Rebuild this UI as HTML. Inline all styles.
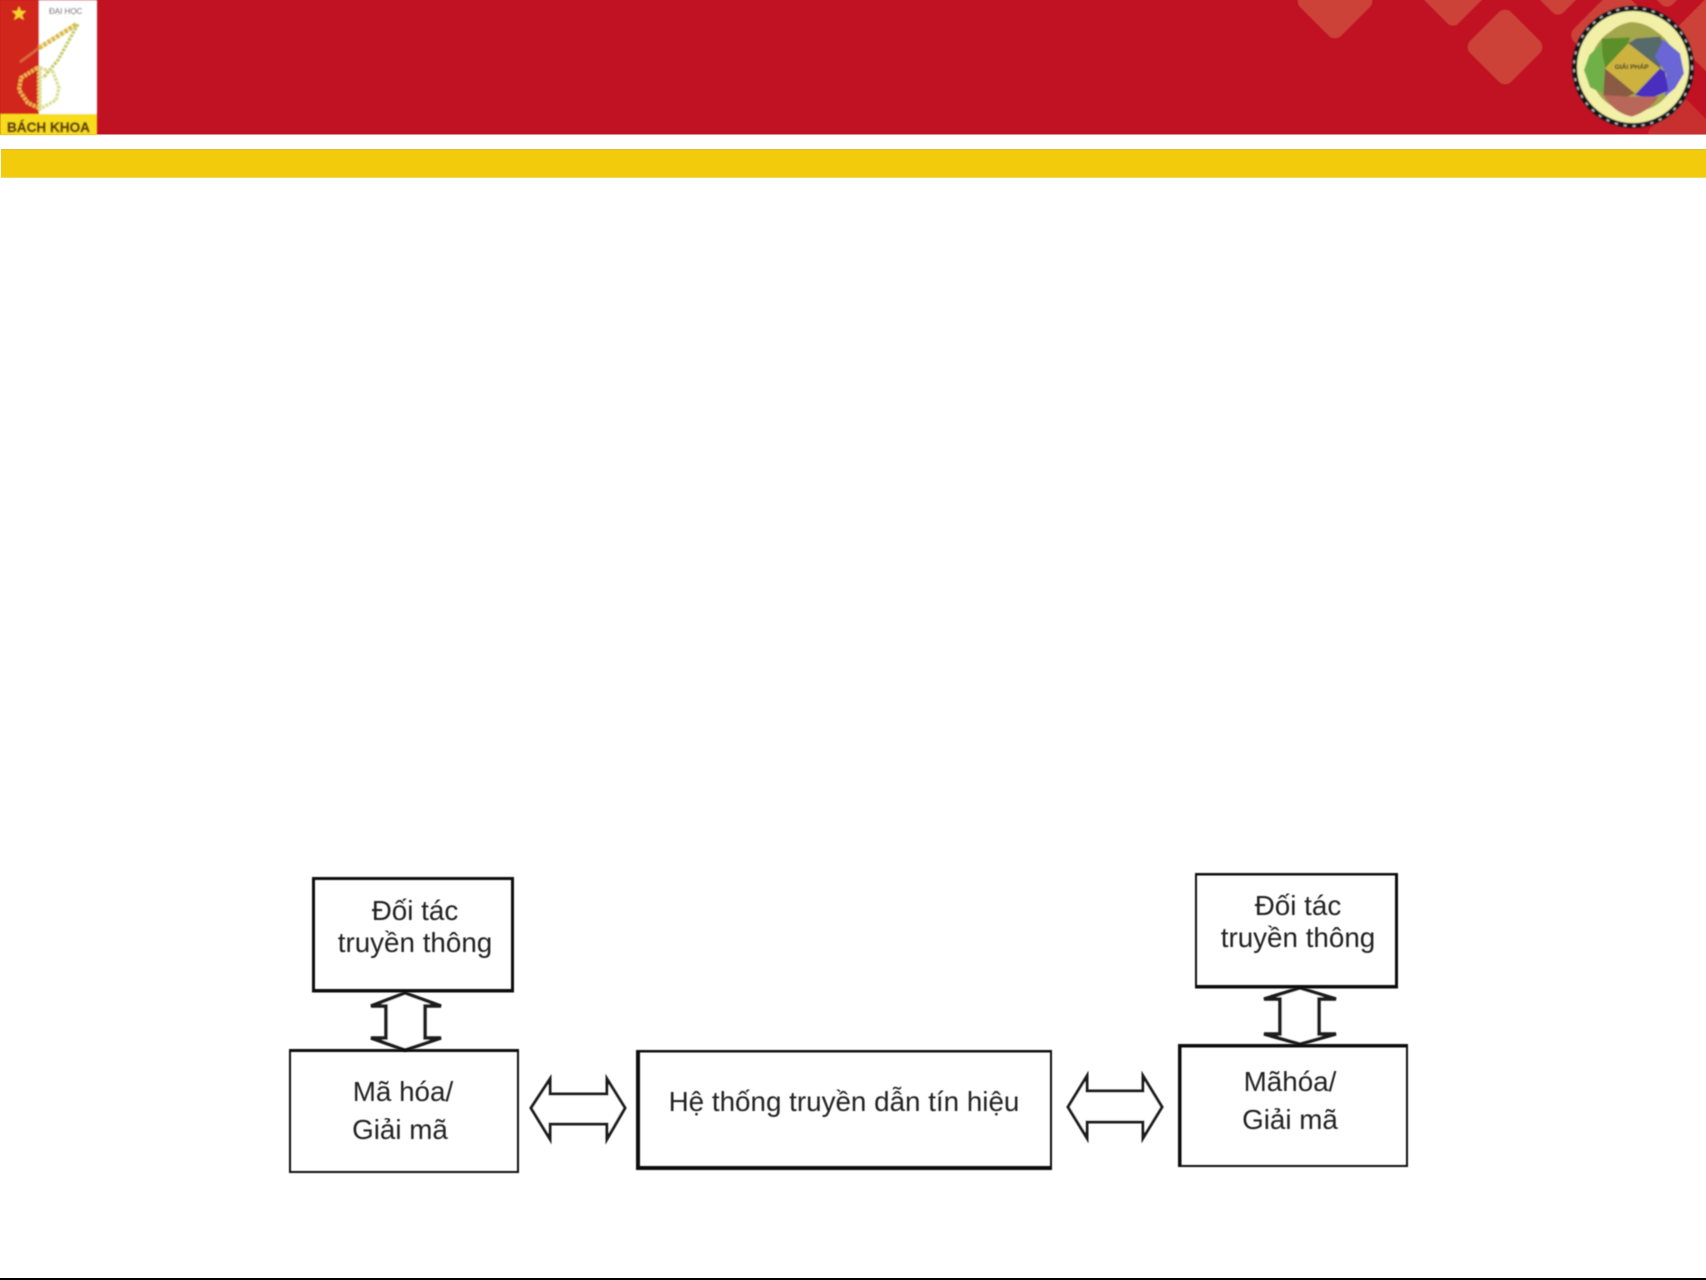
<!DOCTYPE html>
<html lang="vi">
<head>
<meta charset="utf-8">
<title>Hệ thống truyền dẫn tín hiệu</title>
<style>
html,body{margin:0;padding:0;background:#fff;width:1706px;height:1280px;overflow:hidden}
svg{display:block;position:absolute;left:0;top:0}
text{font-family:"Liberation Sans",sans-serif;fill:#222}
</style>
</head>
<body>
<svg width="1706" height="1280" viewBox="0 0 1706 1280" xmlns="http://www.w3.org/2000/svg">
<defs>
<filter id="b1" x="-10%" y="-10%" width="120%" height="120%"><feGaussianBlur stdDeviation="0.9"/></filter>
<filter id="b2" x="-10%" y="-10%" width="120%" height="120%"><feGaussianBlur stdDeviation="0.45"/></filter>
<filter id="b3" x="-10%" y="-10%" width="120%" height="120%"><feGaussianBlur stdDeviation="0.7"/></filter>
<clipPath id="hdr"><rect x="0" y="0" width="1706" height="134"/></clipPath>
</defs>

<!-- header -->
<rect x="0" y="0" width="1706" height="134" fill="#C11223"/>
<rect x="0" y="134" width="1706" height="1" fill="#E58A94"/>
<g clip-path="url(#hdr)" fill="#CC4238" filter="url(#b2)">
  <rect x="-29" y="-29" width="58" height="58" rx="9" transform="translate(1335 1) rotate(45)"/>
  <rect x="-24" y="-24" width="48" height="48" rx="8" transform="translate(1453 -5) rotate(45)"/>
  <rect x="-29" y="-29" width="58" height="58" rx="9" transform="translate(1505 47) rotate(45)"/>
  <rect x="-24" y="-24" width="48" height="48" rx="8" transform="translate(1558 -16) rotate(45)"/>
  <rect x="-35" y="-35" width="70" height="70" rx="9" transform="translate(1617 35) rotate(45)"/>
  <rect x="-24" y="-24" width="48" height="48" rx="8" transform="translate(1667 -24) rotate(45)"/>
  <rect x="-30" y="-30" width="60" height="60" rx="9" transform="translate(1712 35) rotate(45)"/>
  <rect x="-27" y="-27" width="54" height="54" rx="8" transform="translate(1683 134) rotate(45)" opacity="0.6"/>
</g>
<rect x="1" y="149" width="1705" height="29" fill="#F1CB0C"/>
<rect x="1" y="149" width="1705" height="1" fill="#E3B93A"/>
<rect x="1" y="177" width="1705" height="1" fill="#EBDB5E"/>

<!-- logo -->
<g filter="url(#b3)">
  <rect x="0" y="0" width="39" height="114" fill="#D1261C"/>
  <rect x="39" y="0" width="58" height="114" fill="#FFFFFF"/>
  <rect x="0" y="114" width="97" height="21" fill="#F7DC1F"/>
  <polygon points="19,6 21,11 26,11 22,15 24,20 19,17 14,20 16,15 12,11 17,11" fill="#F6D32A"/>
  <text x="49" y="14" font-size="8" style="fill:#444">ĐẠI HỌC</text>
  <path d="M39 48 L77 24" fill="none" stroke="#DDBE3C" stroke-width="5" stroke-dasharray="4 1"/>
  <path d="M78 24 L58 60 L43 78" fill="none" stroke="#C9CF5C" stroke-width="3.500" stroke-dasharray="3 1"/>
  <path d="M39 48 L20 62" fill="none" stroke="#D86A3C" stroke-width="2.500"/>
  <polygon points="37,68 21,78 19,90 28,103 39,108 39,68" fill="none" stroke="#EDB04C" stroke-width="4" stroke-dasharray="3 1"/>
  <polygon points="40,68 53,72 59,88 56,100 40,109" fill="none" stroke="#DCE08E" stroke-width="3.500" stroke-dasharray="3 1"/>
  <text x="7" y="132" font-size="14" font-weight="bold" textLength="83" lengthAdjust="spacingAndGlyphs" style="fill:#5E3A10;stroke:#5E3A10;stroke-width:.5">BÁCH KHOA</text>
</g>

<!-- emblem -->
<g filter="url(#b1)">
  <circle cx="1633" cy="67" r="58.500" fill="#F2EFA6" stroke="#151515" stroke-width="5"/>
  <circle cx="1633" cy="67" r="59" fill="none" stroke="#aaa" stroke-width="2" stroke-dasharray="3 6"/>
  <g transform="translate(1560 0) scale(0.3333)">
    <circle cx="220" cy="205" r="130" fill="#A3A64C"/>
    <path d="M130 118 Q165 72 215 66 Q270 70 302 108 L230 115 L205 130 L210 115 Z" fill="#A3A64C"/>
    <polygon points="125,130 88,165 72,210 90,262 132,282 136,210 125,165" fill="#6FB04A"/>
    <polygon points="125,116 210,112 205,130 136,205 127,165" fill="#5A8F2C"/>
    <polygon points="205,130 230,115 300,110 312,130 300,205" fill="#566A6A"/>
    <polygon points="310,118 360,160 372,220 345,265 315,290 320,222 285,170" fill="#6A66D6"/>
    <polygon points="300,205 315,215 325,272 270,296 225,285" fill="#4A2FC0"/>
    <polygon points="135,205 225,280 196,292 130,286" fill="#8A5A42"/>
    <path d="M130 285 L200 290 L296 290 Q270 332 215 350 Q160 338 130 285 Z" fill="#B8685A"/>
    <polygon points="205,130 300,205 225,280 135,205" fill="#CDB23F"/>
    <text x="215" y="207" font-size="20" text-anchor="middle" style="fill:#222;font-weight:bold">GIẢI PHÁP</text>
  </g>
</g>

<!-- connectors -->
<g filter="url(#b2)" fill="#fff" stroke="#1a1a1a" stroke-linejoin="miter">
  <polygon stroke-width="3.500" points="405,993 441,1006 425,1006 425,1038 441,1038 405,1050 371,1038 386,1038 386,1006 371,1006"/>
  <polygon stroke-width="3.500" points="1300,988 1336,999 1319,999 1319,1034 1336,1034 1300,1044 1264,1034 1280,1034 1280,999 1264,999"/>
  <polygon stroke-width="3" points="531,1108 550,1079 550,1094 607,1094 607,1079 625,1108 607,1139 607,1124 550,1124 550,1139"/>
  <polygon stroke-width="3" points="1068,1107 1087,1076 1087,1091 1143,1091 1143,1076 1162,1107 1143,1138 1143,1122 1087,1122 1087,1138"/>
</g>

<!-- boxes -->
<g filter="url(#b2)" fill="#111">
  <!-- Đối tác left -->
  <rect x="312" y="877" width="202" height="3"/><rect x="312" y="989" width="202" height="3.500"/>
  <rect x="312" y="877" width="3" height="115"/><rect x="511" y="877" width="3" height="115"/>
  <!-- Mã hóa left -->
  <rect x="289" y="1049" width="230" height="3"/><rect x="289" y="1171" width="230" height="2"/>
  <rect x="289" y="1049" width="2" height="124"/><rect x="517" y="1049" width="2" height="124"/>
  <!-- centre -->
  <rect x="636" y="1050" width="416" height="2.500"/><rect x="636" y="1166" width="416" height="4"/>
  <rect x="636" y="1050" width="4" height="120"/><rect x="1050" y="1050" width="2" height="120"/>
  <!-- Đối tác right -->
  <rect x="1195" y="873" width="203" height="2.500"/><rect x="1195" y="985" width="203" height="3.500"/>
  <rect x="1195" y="873" width="2" height="115"/><rect x="1395" y="873" width="3" height="115"/>
  <!-- Mã hóa right -->
  <rect x="1178" y="1044" width="230" height="3.500"/><rect x="1178" y="1165" width="230" height="2"/>
  <rect x="1178" y="1044" width="3.500" height="123"/><rect x="1406" y="1044" width="2" height="123"/>
</g>

<!-- labels -->
<g font-size="27.800" filter="url(#b2)">
  <text x="415" y="920" text-anchor="middle">Đối tác</text>
  <text x="415" y="952" text-anchor="middle">truyền thông</text>
  <text x="403" y="1101" text-anchor="middle">Mã hóa/</text>
  <text x="400" y="1139" text-anchor="middle">Giải mã</text>
  <text x="844" y="1111" text-anchor="middle">Hệ thống truyền dẫn tín hiệu</text>
  <text x="1298" y="915" text-anchor="middle">Đối tác</text>
  <text x="1298" y="947" text-anchor="middle">truyền thông</text>
  <text x="1290" y="1091" text-anchor="middle">Mãhóa/</text>
  <text x="1290" y="1129" text-anchor="middle">Giải mã</text>
</g>

<!-- bottom edge -->
<rect x="0" y="1278" width="1706" height="2" fill="#000"/>
</svg>
</body>
</html>
